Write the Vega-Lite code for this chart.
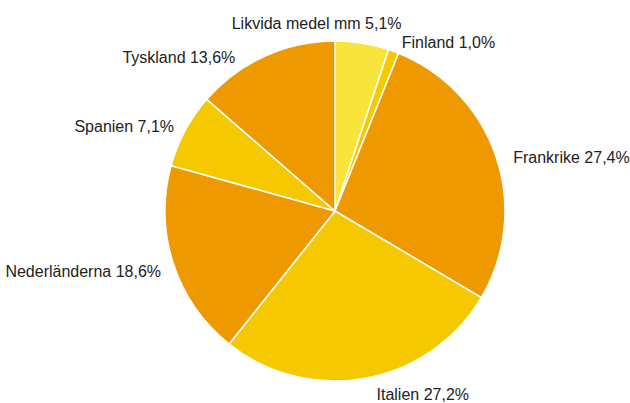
{
  "$schema": "https://vega.github.io/schema/vega-lite/v6.json",
  "width": 590,
  "height": 384,
  "autosize": "none",
  "padding": {"left": 40, "right": 0, "top": 19, "bottom": 0},
  "background": "white",
  "config": {"view": {"stroke": null}},
  "data": {
    "values": [
      {"order": 1, "category": "Likvida medel mm", "share": 5.1, "label": "Likvida medel mm 5,1%"},
      {"order": 2, "category": "Finland", "share": 1.0, "label": "Finland 1,0%"},
      {"order": 3, "category": "Frankrike", "share": 27.4, "label": "Frankrike 27,4%"},
      {"order": 4, "category": "Italien", "share": 27.2, "label": "Italien 27,2%"},
      {"order": 5, "category": "Nederländerna", "share": 18.6, "label": "Nederländerna 18,6%"},
      {"order": 6, "category": "Spanien", "share": 7.1, "label": "Spanien 7,1%"},
      {"order": 7, "category": "Tyskland", "share": 13.6, "label": "Tyskland 13,6%"}
    ]
  },
  "encoding": {
    "theta": {"field": "share", "type": "quantitative", "stack": true},
    "order": {"field": "order", "type": "quantitative"}
  },
  "layer": [
    {
      "mark": {"type": "arc", "outerRadius": 170, "stroke": "white", "strokeWidth": 1.5},
      "encoding": {
        "color": {
          "field": "category",
          "type": "nominal",
          "legend": null,
          "scale": {
            "domain": ["Likvida medel mm", "Finland", "Frankrike", "Italien", "Nederländerna", "Spanien", "Tyskland"],
            "range": ["#f8e43a", "#f5c800", "#ef9900", "#f5c800", "#ef9900", "#f5c800", "#ef9900"]
          }
        }
      }
    },
    {
      "mark": {"type": "text", "radius": 185, "align": "left", "baseline": "middle", "dx": 3, "dy": 6, "font": "Liberation Sans", "fontSize": 16, "color": "#222222"},
      "encoding": {
        "text": {"condition": {"test": "indexof(['Finland','Frankrike'], datum.category) >= 0", "field": "label"}, "value": ""}
      }
    },
    {
      "mark": {"type": "text", "radius": 185, "align": "left", "baseline": "middle", "dx": 8, "dy": 2, "font": "Liberation Sans", "fontSize": 16, "color": "#222222"},
      "encoding": {
        "text": {"condition": {"test": "datum.category == 'Italien'", "field": "label"}, "value": ""}
      }
    },
    {
      "mark": {"type": "text", "radius": 185, "align": "right", "baseline": "middle", "dx": 2, "dy": 4, "font": "Liberation Sans", "fontSize": 16, "color": "#222222"},
      "encoding": {
        "text": {"condition": {"test": "indexof(['Nederländerna','Spanien'], datum.category) >= 0", "field": "label"}, "value": ""}
      }
    },
    {
      "mark": {"type": "text", "radius": 185, "align": "right", "baseline": "middle", "dx": -23, "dy": 15, "font": "Liberation Sans", "fontSize": 16, "color": "#222222"},
      "encoding": {
        "text": {"condition": {"test": "datum.category == 'Tyskland'", "field": "label"}, "value": ""}
      }
    },
    {
      "mark": {"type": "text", "radius": 192, "align": "center", "baseline": "middle", "dx": -49, "dy": 3, "font": "Liberation Sans", "fontSize": 16, "color": "#222222"},
      "encoding": {
        "text": {"condition": {"test": "datum.category == 'Likvida medel mm'", "field": "label"}, "value": ""}
      }
    }
  ]
}
